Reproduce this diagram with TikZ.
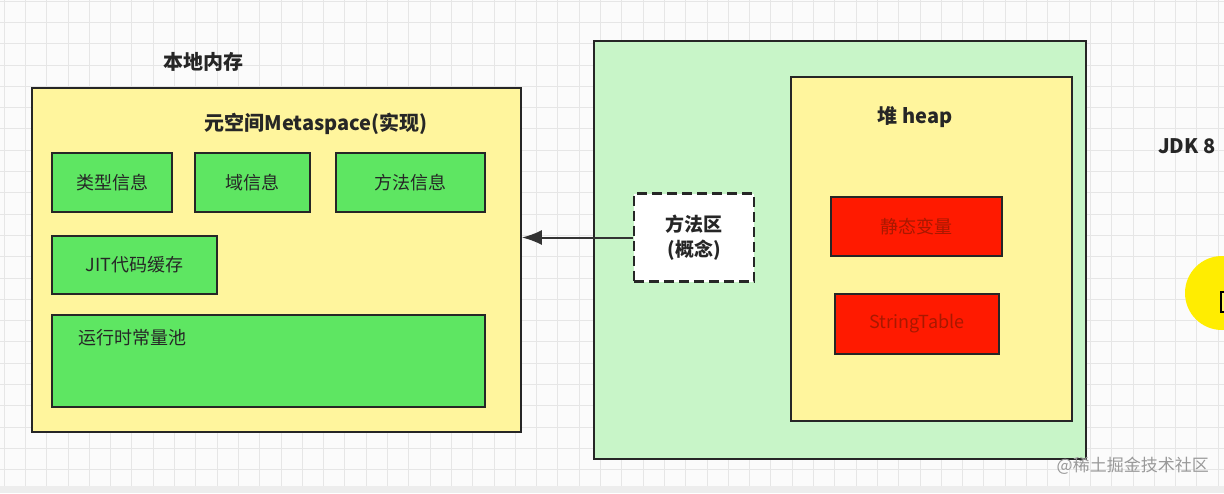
\documentclass[tikz,border=0pt]{standalone}
\usepackage{fontspec}
\setmainfont{Noto Sans CJK SC}
\usetikzlibrary{arrows.meta}
\definecolor{bgc}{HTML}{FBFBFB}
\definecolor{gridc}{HTML}{E6E6E6}
\definecolor{yel}{HTML}{FFF59D}
\definecolor{grn}{HTML}{5EE662}
\definecolor{lgrn}{HTML}{C8F5C8}
\definecolor{redf}{HTML}{FF1A00}
\definecolor{redt}{HTML}{A81800}
\definecolor{txt}{HTML}{262626}
\tikzset{
  x=1pt, y=-1pt,
  boxline/.style={draw=black!85, line width=1.8pt},
  ybox/.style={boxline, fill=yel, inner sep=0pt},
  gbox/.style={boxline, fill=grn, inner sep=0pt, text=txt, font=\fontsize{18}{20}\selectfont},
  rbox/.style={boxline, fill=redf, inner sep=0pt, text=redt, font=\fontsize{18}{20}\selectfont},
  head/.style={text=txt, font=\fontsize{20}{22}\selectfont\bfseries, inner sep=0pt},
  conn/.style={draw=black!80, line width=2pt, -{Latex[length=20pt,width=15pt]}},
}
\begin{document}
\begin{tikzpicture}
\useasboundingbox (0,0) rectangle (1224,493);
\begin{scope}
\clip (0,0) rectangle (1224,493);
\fill[bgc] (0,0) rectangle (1224,493);
\foreach \i in {0,...,58} {\draw[gridc, line width=0.8pt] ({4+21.3*\i},0) -- ({4+21.3*\i},493);}
\foreach \j in {0,...,23} {\draw[gridc, line width=0.8pt] (0,{1+21.3*\j}) -- (1224,{1+21.3*\j});}
\fill[black!7] (0,486) rectangle (1224,493);

% left: native memory
\node[head] (native) at (203,62) {本地内存};
\node[ybox, minimum width=489pt, minimum height=344pt] (meta) at (276.5,260) {};
\node[head] (metat) at (316,124) {元空间Metaspace(实现)};
\node[gbox, minimum width=120pt, minimum height=59pt] (type) at (112,182.5) {类型信息};
\node[gbox, minimum width=115pt, minimum height=59pt] (field) at (252.5,182.5) {域信息};
\node[gbox, minimum width=149pt, minimum height=59pt] (method) at (410.5,182.5) {方法信息};
\node[gbox, minimum width=165pt, minimum height=58pt] (jit) at (134.5,265) {JIT代码缓存};
\node[gbox, minimum width=433pt, minimum height=92pt] (pool) at (268.5,361) {};
\node[text=txt, font=\fontsize{18}{20}\selectfont, anchor=west, inner sep=0pt] (poolt) at (78,338) {运行时常量池};

% right: JVM
\node[boxline, fill=lgrn, minimum width=492pt, minimum height=418pt, inner sep=0pt] (jvm) at (840,250) {};
\node[ybox, minimum width=281pt, minimum height=344pt] (heap) at (931.5,249) {};
\node[head] (heapt) at (915,117) {堆 heap};
\node[rbox, minimum width=171pt, minimum height=59pt] (static) at (916.5,226.5) {静态变量};
\node[rbox, minimum width=164pt, minimum height=60pt] (st) at (917,324) {StringTable};
\node[draw=black!85, line width=2.3pt, dash pattern=on 10pt off 5pt, fill=white, minimum width=120pt, minimum height=88pt, inner sep=0pt, align=center, text=txt, font=\fontsize{19}{25}\selectfont\bfseries] (ma) at (694,237.5) {方法区\\(概念)};
\draw[conn] (ma.west) -- (meta.east |- ma.west);

\node[head, anchor=west] (jdk) at (1158,146) {JDK 8};
\node[text=black!40, font=\fontsize{17}{19}\selectfont, anchor=east, inner sep=0pt] (wm) at (1209,466) {@稀土掘金技术社区};

\fill[yellow!95!orange] (1222,293) circle (37);
\draw[black, line width=1.5pt, fill=yellow!60] (1221,292) rectangle (1232,312);
\end{scope}
\end{tikzpicture}
\end{document}
